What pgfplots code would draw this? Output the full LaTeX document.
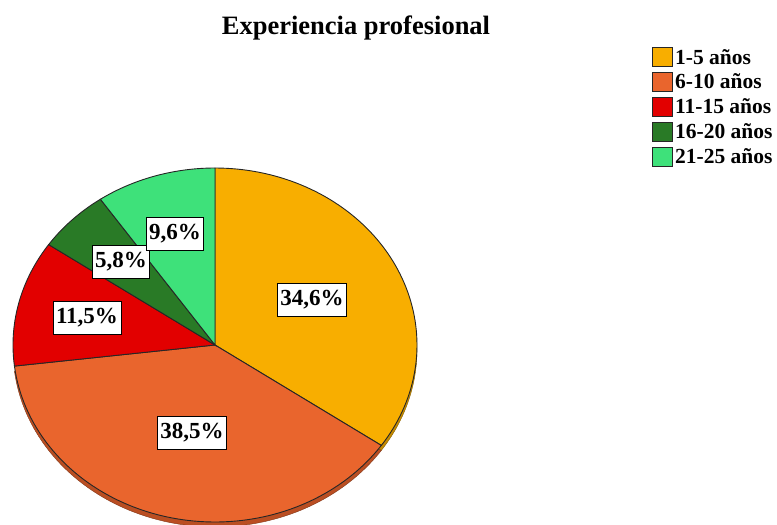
\documentclass[border=0pt]{standalone}
\usepackage{pgfplots}
\pgfplotsset{compat=1.18}
\usepackage{fontspec}
\setmainfont{Liberation Serif}

\definecolor{c1}{RGB}{248,174,0}
\definecolor{c2}{RGB}{233,101,45}
\definecolor{c3}{RGB}{226,0,0}
\definecolor{c4}{RGB}{41,122,38}
\definecolor{c5}{RGB}{62,225,122}
\definecolor{c1s}{RGB}{196,138,0}
\definecolor{c2s}{RGB}{186,78,34}

% pie centre and radii (pixels of the reference)
\def\cx{215}
\def\cy{345}
\def\rx{202}
\def\ry{177}

\begin{document}
\begin{tikzpicture}
\begin{axis}[
    name=ax, at={(0,0)}, anchor=south west,
    scale only axis, width=777pt, height=525pt,
    xmin=0, xmax=777, ymin=0, ymax=525,
    y dir=reverse, hide axis, clip=false,
    legend style={at={(axis cs:652,47)}, anchor=north west, draw=none, fill=none,
        inner sep=0pt, row sep=4.3pt,
        font=\fontsize{21.5}{22}\selectfont\bfseries,
        cells={anchor=west}},
    legend image code/.code={\draw[#1] (0pt,-9.5pt) rectangle (20pt,9.5pt);},
    every axis plot/.append style={samples=80, variable=\t},
  ]

% shares in %: 34.6, 38.5, 11.5, 5.8, 9.6 (clockwise from the top)
% side of the disc
\addplot[fill=c1s, draw=c1s!70!black, forget plot, domain={90-3.6*34.6}:90]
  ({\cx+\rx*cos(\t)},{\cy+5-\ry*sin(\t)}) -- (axis cs:\cx,\cy+5) -- cycle;
\addplot[fill=c2s, draw=c2s!70!black, forget plot, domain={90-3.6*73.1}:{90-3.6*34.6}]
  ({\cx+\rx*cos(\t)},{\cy+5-\ry*sin(\t)}) -- (axis cs:\cx,\cy+5) -- cycle;

% top of the disc
\addplot[fill=c1, draw=black!85, line width=0.9pt, domain={90-3.6*34.6}:90]
  ({\cx+\rx*cos(\t)},{\cy-\ry*sin(\t)}) -- (axis cs:\cx,\cy) -- cycle;
\addplot[fill=c2, draw=black!85, line width=0.9pt, domain={90-3.6*73.1}:{90-3.6*34.6}]
  ({\cx+\rx*cos(\t)},{\cy-\ry*sin(\t)}) -- (axis cs:\cx,\cy) -- cycle;
\addplot[fill=c3, draw=black!85, line width=0.9pt, domain={90-3.6*84.6}:{90-3.6*73.1}]
  ({\cx+\rx*cos(\t)},{\cy-\ry*sin(\t)}) -- (axis cs:\cx,\cy) -- cycle;
\addplot[fill=c4, draw=black!85, line width=0.9pt, domain={90-3.6*90.4}:{90-3.6*84.6}]
  ({\cx+\rx*cos(\t)},{\cy-\ry*sin(\t)}) -- (axis cs:\cx,\cy) -- cycle;
\addplot[fill=c5, draw=black!85, line width=0.9pt, domain={90-3.6*100}:{90-3.6*90.4}]
  ({\cx+\rx*cos(\t)},{\cy-\ry*sin(\t)}) -- (axis cs:\cx,\cy) -- cycle;

\legend{1-5 años, 6-10 años, 11-15 años, 16-20 años, 21-25 años}

% value labels
\tikzset{lbl/.style={fill=white, draw=black, line width=0.8pt, inner xsep=3pt,
    minimum height=33pt, font=\fontsize{23}{25}\selectfont\bfseries}}
\node[lbl] at (axis cs:312,300) {34,6\%};
\node[lbl] at (axis cs:192,433) {38,5\%};
\node[lbl] at (axis cs:87,318) {11,5\%};
\node[lbl] at (axis cs:121,262) {5,8\%};
\node[lbl] at (axis cs:175,234) {9,6\%};

\node[font=\fontsize{26.5}{28}\selectfont\bfseries] at (axis cs:356,28) {Experiencia profesional};
\end{axis}
\pgfresetboundingbox
\useasboundingbox (ax.south west) rectangle (ax.north east);
\end{tikzpicture}
\end{document}
